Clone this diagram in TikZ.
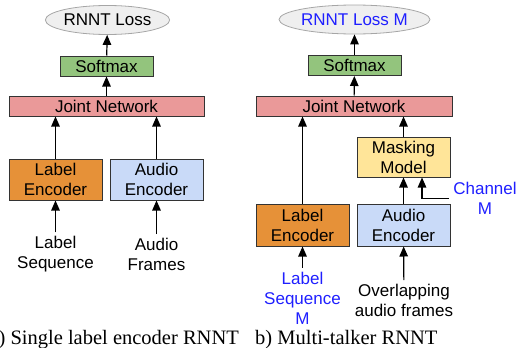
\documentclass[tikz,border=0pt]{standalone}
\usepackage{fontspec}
\setmainfont{Liberation Serif}
\setsansfont{Liberation Sans}
\usetikzlibrary{arrows.meta,shapes.geometric}
\definecolor{boxline}{HTML}{333333}
\definecolor{encorange}{HTML}{E69138}
\definecolor{encblue}{HTML}{C9DAF8}
\definecolor{maskyellow}{HTML}{FFE599}
\definecolor{smgreen}{HTML}{93C47D}
\definecolor{jointpink}{HTML}{EA9999}
\definecolor{lossgray}{HTML}{EFEFEF}
\definecolor{mblue}{HTML}{1F1FFF}
\begin{document}
\begin{tikzpicture}[x=1pt,y=-1pt,
    blk/.style={draw=boxline, line width=1pt, inner sep=0pt, align=center,
      minimum width=93pt, minimum height=20pt, font=\sffamily\fontsize{17}{20}\selectfont},
    loss/.style={ellipse, draw=gray!70, fill=lossgray, line width=0.8pt, inner sep=0pt,
      minimum width=123pt, minimum height=29pt, font=\sffamily\fontsize{17}{20}\selectfont},
    txt/.style={align=center, inner sep=4pt, font=\sffamily\fontsize{17}{20}\selectfont},
    arr/.style={line width=1.2pt, -{Triangle[length=10pt,width=8.5pt]}},
    captxt/.style={inner sep=0pt, font=\fontsize{20.5}{24}\selectfont}]
  \useasboundingbox (0,0) rectangle (517,348);

  % a) single label encoder
  \node[loss] (lossA) at (107.5,20) {RNNT Loss};
  \node[blk, fill=smgreen] (smA) at (106.5,66) {Softmax};
  \node[blk, fill=jointpink, minimum width=195pt] (jointA) at (106.5,106) {Joint Network};
  \node[blk, fill=encorange, minimum height=41pt] (labA) at (55.5,179.5) {Label\\Encoder};
  \node[blk, fill=encblue, minimum height=41pt] (audA) at (156.5,179.5) {Audio\\Encoder};
  \node[txt] (lseqA) at (55.5,254.5) {Label\\Sequence};
  \node[txt] (afrA) at (156.5,254.5) {Audio\\Frames};
  \draw[arr] (lseqA) -- (labA);
  \draw[arr] (afrA) -- (audA);
  \draw[arr] (labA) -- (labA |- jointA.south);
  \draw[arr] (audA) -- (audA |- jointA.south);
  \draw[arr] (jointA) -- (smA);
  \draw[arr] (smA) -- (lossA);

  % b) multi-talker
  \node[loss, text=mblue] (lossB) at (354.5,19.5) {RNNT Loss M};
  \node[blk, fill=smgreen] (smB) at (354.5,65.5) {Softmax};
  \node[blk, fill=jointpink, minimum width=196pt] (jointB) at (354,106) {Joint Network};
  \node[blk, fill=maskyellow, minimum height=40pt] (maskB) at (403.5,157) {Masking\\Model};
  \node[blk, fill=encorange, minimum height=42pt] (labB) at (302.5,225) {Label\\Encoder};
  \node[blk, fill=encblue, minimum height=42pt] (audB) at (403.5,225) {Audio\\Encoder};
  \node[txt, text=mblue] (lseqB) at (302.5,298) {Label\\Sequence\\M};
  \node[txt] (ovlB) at (404,300.5) {Overlapping\\audio frames};
  \node[txt, text=mblue] (chanB) at (485,198.5) {Channel\\M};
  \draw[arr] (lseqB) -- (labB);
  \draw[arr] (ovlB) -- (audB);
  \draw[arr] (labB) -- (labB |- jointB.south);
  \draw[arr] (audB) -- (maskB);
  \draw[arr] (chanB.west) -| ([xshift=18.5pt]maskB.south);
  \draw[arr] (maskB) -- (maskB |- jointB.south);
  \draw[arr] (jointB) -- (smB);
  \draw[arr] (smB) -- (lossB);

  % captions
  \node[captxt, anchor=base east] (capA) at (239,344) {a) Single label encoder RNNT};
  \node[captxt, anchor=base west] (capB) at (255,344) {b) Multi-talker RNNT};
\end{tikzpicture}
\end{document}
